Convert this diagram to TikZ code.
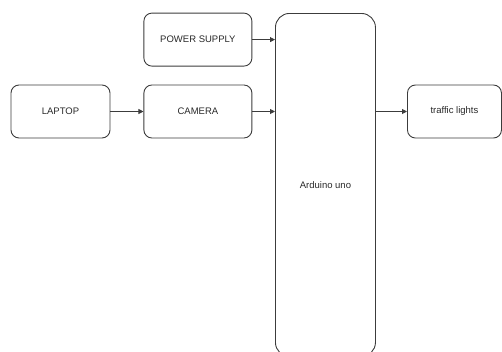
\documentclass[tikz,border=0pt]{standalone}
\usepackage{fontspec}
\setmainfont{Liberation Sans}
\usetikzlibrary{arrows.meta,positioning}
\definecolor{bline}{RGB}{60,60,60}
\definecolor{btext}{RGB}{40,40,40}

\begin{document}
\begin{tikzpicture}[
  x=1pt, y=-1pt, font=\fontsize{9.5}{11}\selectfont,
  box/.style={draw=bline, line width=0.9pt, rounded corners=8pt, align=center, text=btext,
    minimum width=108pt, minimum height=53pt, inner sep=2pt},
  link/.style={-{Triangle[length=5pt,width=5pt]}, draw=bline, line width=0.9pt}
]
\clip (0,0) rectangle (502,351);
\node[box, minimum width=99pt] (laptop) at (60.5,111.5) {LAPTOP};
\node[box, right=33pt of laptop] (camera) {CAMERA};
\node[box, above=18pt of camera] (power) {POWER SUPPLY};
\node[box, rounded corners=14pt, minimum width=100pt, minimum height=343pt, anchor=north west] (arduino) at (275,13) {Arduino uno};
\node[box, minimum width=94pt, anchor=west] (lights) at (407,111.5) {traffic lights};
\draw[link] (laptop) -- (camera);
\draw[link] (power.east) -- (power.east -| arduino.west);
\draw[link] (camera.east) -- (camera.east -| arduino.west);
\draw[link] (arduino.east |- lights.west) -- (lights.west);
\end{tikzpicture}
\end{document}
